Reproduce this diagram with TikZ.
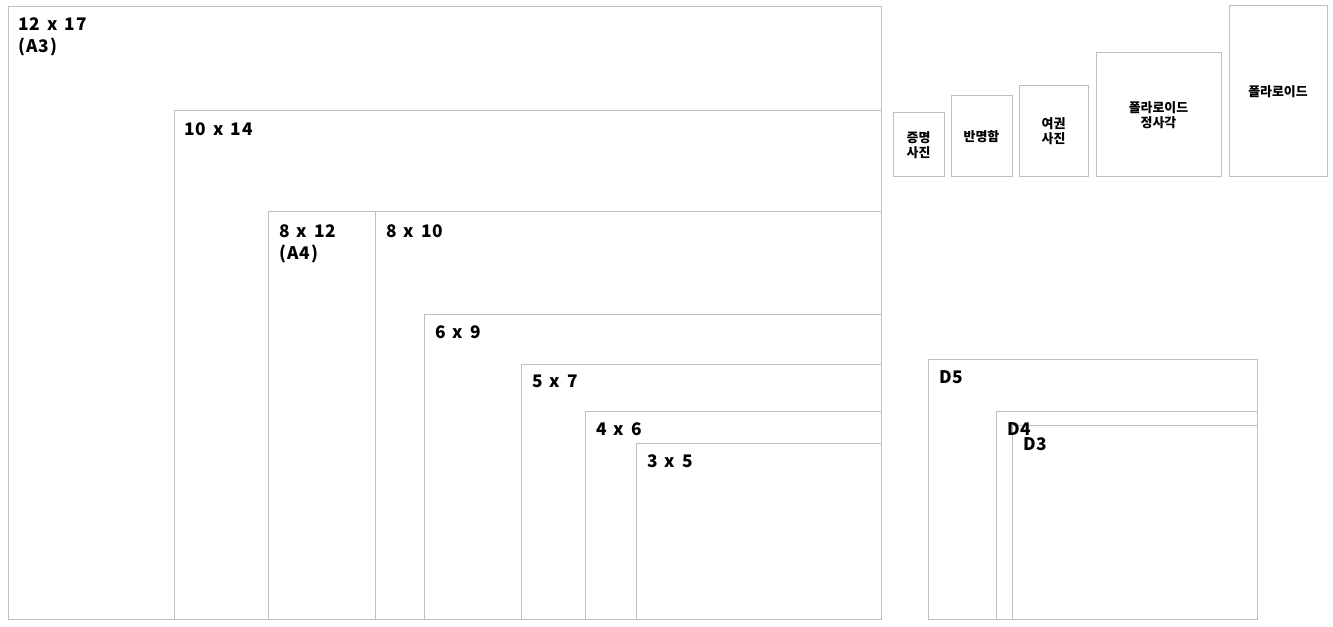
\documentclass[tikz,border=0pt]{standalone}
\usepackage{fontspec}
\setmainfont{Noto Sans CJK KR}
\newfontfamily\sizefont{Noto Sans CJK KR}[LetterSpace=6,WordSpace=1.4]
\usepackage{tikz}

\tikzset{
  sizebox/.style={draw=gray!50, line width=0.75pt},
  sizelabel/.style={anchor=north west, inner sep=0pt, align=left, font=\sizefont\fontsize{13}{16.5}\selectfont\bfseries},
  photolabel/.style={inner sep=0pt, align=center, font=\fontsize{9.7}{11.3}\selectfont\bfseries}
}

\begin{document}
\begin{tikzpicture}[x=0.75pt,y=0.75pt,yscale=-1,xscale=1]
\path (0,0) rectangle (1333,627); %set diagram size

%Shape: Rectangle [12 x 17]
\draw [sizebox] (8,7) rectangle (881,619) ;
%Shape: Rectangle [10 x 14]
\draw [sizebox] (174,111) rectangle (881,619) ;
%Shape: Rectangle [8 x 12]
\draw [sizebox] (268,212) rectangle (881,619) ;
%Shape: Rectangle [8 x 10]
\draw [sizebox] (375,212) rectangle (881,619) ;
%Shape: Rectangle [6 x 9]
\draw [sizebox] (424,314) rectangle (881,619) ;
%Shape: Rectangle [5 x 7]
\draw [sizebox] (521,364) rectangle (881,619) ;
%Shape: Rectangle [4 x 6]
\draw [sizebox] (585,411) rectangle (881,619) ;
%Shape: Rectangle [3 x 5]
\draw [sizebox] (636,443) rectangle (881,619) ;

%Shape: Rectangle [D5]
\draw [sizebox] (928,359) rectangle (1257,619) ;
%Shape: Rectangle [D4]
\draw [sizebox] (996,411) rectangle (1257,619) ;
%Shape: Rectangle [D3]
\draw [sizebox] (1012,425) rectangle (1257,619) ;

%Shape: Rectangle [id photo]
\draw [sizebox] (893,113) rectangle (944,177) ;
%Shape: Rectangle [half card]
\draw [sizebox] (951,96) rectangle (1012,177) ;
%Shape: Rectangle [passport]
\draw [sizebox] (1019,86) rectangle (1088,177) ;
%Shape: Rectangle [polaroid square]
\draw [sizebox] (1096,53) rectangle (1221,177) ;
%Shape: Rectangle [polaroid]
\draw [sizebox] (1229,6) rectangle (1327,177) ;

% Text Node
\node [sizelabel] (lbltwelve) at (18,17) {12 x 17\\(A3)};
% Text Node
\node [sizelabel] (lblten) at (184,122) {10 x 14};
% Text Node
\node [sizelabel] (lbleighttw) at (279,224) {8 x 12\\(A4)};
% Text Node
\node [sizelabel] (lbleightten) at (386,224) {8 x 10};
% Text Node
\node [sizelabel] (lblsix) at (435,325) {6 x 9};
% Text Node
\node [sizelabel] (lblfive) at (532,375) {5 x 7};
% Text Node
\node [sizelabel] (lblfour) at (596,422) {4 x 6};
% Text Node
\node [sizelabel] (lblthree) at (647,454) {3 x 5};
% Text Node
\node [sizelabel] (lbldfive) at (939,370) {D5};
% Text Node
\node [sizelabel] (lbldfour) at (1007,422) {D4};
% Text Node
\node [sizelabel] (lbldthree) at (1023,437) {D3};

% Text Node
\node [photolabel] (lblid) at (918.5,145) {증명\\사진};
% Text Node
\node [photolabel] (lblhalf) at (981.5,137) {반명함};
% Text Node
\node [photolabel] (lblpass) at (1053.5,131.5) {여권\\사진};
% Text Node
\node [photolabel] (lblpolsq) at (1158.5,115) {폴라로이드\\정사각};
% Text Node
\node [photolabel] (lblpol) at (1278,91.5) {폴라로이드};

\end{tikzpicture}
\end{document}
